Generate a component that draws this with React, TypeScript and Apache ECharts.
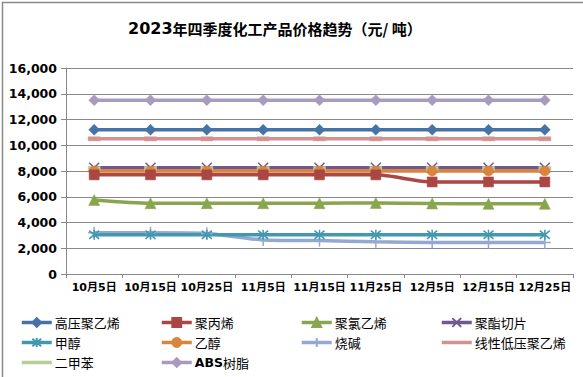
import React, { useEffect, useRef } from "react";
import * as echarts from "echarts";

const categories = ["10月5日", "10月15日", "10月25日", "11月5日", "11月15日", "11月25日", "12月5日", "12月15日", "12月25日"];
const yTicks = { min: 0, max: 16000, interval: 2000 };

const hdpe = [11200, 11200, 11200, 11200, 11200, 11200, 11200, 11200, 11200];
const pp = [7700, 7700, 7700, 7700, 7700, 7700, 7150, 7150, 7150];
const pvc = [5750, 5500, 5500, 5500, 5500, 5520, 5480, 5450, 5450];
const pet = [8250, 8250, 8250, 8250, 8250, 8250, 8250, 8250, 8250];
const methanol = [3050, 3050, 3050, 3050, 3050, 3050, 3050, 3050, 3050];
const ethanol = [8000, 8000, 8000, 8000, 8000, 8000, 8000, 8000, 8000];
const caustic = [3200, 3200, 3150, 2650, 2600, 2500, 2450, 2450, 2450];
const lldpe = [10500, 10500, 10500, 10500, 10500, 10500, 10500, 10500, 10500];
const xylene = [8200, 8200, 8200, 8200, 8200, 8200, 8200, 8200, 8200];
const abs = [13500, 13500, 13500, 13500, 13500, 13500, 13500, 13500, 13500];

const seriesNames = ["高压聚乙烯", "聚丙烯", "聚氯乙烯", "聚酯切片", "甲醇", "乙醇", "烧碱", "线性低压聚乙烯", "二甲苯", "ABS树脂"];
const seriesData = [hdpe, pp, pvc, pet, methanol, ethanol, caustic, lldpe, xylene, abs];
const colors = ["#4572A7", "#AA4643", "#89A54E", "#71588F", "#4198AF", "#DB843D", "#93A9CF", "#D19392", "#B9CD96", "#A99BBD"];

const symbols: any[] = [
  { symbol: "diamond", size: 11, stroke: false },
  { symbol: "rect", size: 10, stroke: false },
  { symbol: "triangle", size: 11, stroke: false },
  { symbol: "path://M0,0L10,10M10,0L0,10", size: 10, stroke: true },
  { symbol: "path://M0,0L10,10M10,0L0,10M5,-1L5,11", size: 10, stroke: true },
  { symbol: "circle", size: 10, stroke: false },
  { symbol: "path://M5,0L5,10M0,5L10,5", size: 12, stroke: true },
  { symbol: "rect", size: [12, 4], stroke: false },
  { symbol: "rect", size: [12, 4], stroke: false },
  { symbol: "diamond", size: 11, stroke: false },
];

// draw order: bottom series first so that top ones overlap like reference
const drawOrder = [9, 0, 7, 8, 3, 5, 1, 2, 6, 4];

const FONT = "'DejaVu Sans', 'Noto Sans CJK SC', sans-serif";
const CJK = "'Noto Sans CJK SC', 'DejaVu Sans', sans-serif";

export default function App() {
  const ref = useRef<HTMLDivElement>(null);
  useEffect(() => {
    if (!ref.current) return;
    const chart = echarts.init(ref.current, null, { renderer: "svg" });

    const series = drawOrder.map((i) => {
      const s = symbols[i];
      return {
        name: seriesNames[i],
        type: "line",
        data: seriesData[i],
        smooth: 0.25,
        symbol: s.symbol,
        symbolSize: s.size,
        z: 2,
        lineStyle: { color: colors[i], width: 3.5 },
        itemStyle: {
          color: colors[i],
          borderColor: colors[i],
          borderWidth: s.stroke ? 1.5 : 0.5,
        },
      };
    });

    const legendPos = [
      [20, 316], [160, 316], [300, 316], [440, 316],
      [20, 336], [160, 336], [300, 336], [440, 336],
      [20, 356], [160, 356],
    ];

    const legends = seriesNames.map((n, i) => ({
      show: true,
      left: legendPos[i][0],
      top: legendPos[i][1],
      padding: 0,
      itemWidth: 30,
      itemHeight: 11,
      itemGap: 0,
      lineStyle: { width: 3.5 },
      data: [
        i === 7 || i === 8
          ? { name: n, itemStyle: { opacity: 0 } }
          : { name: n },
      ],
      formatter: n === "ABS树脂" ? "{b|ABS}{a|树脂}" : "{a|" + n + "}",
      textStyle: {
        fontFamily: CJK,
        fontSize: 13,
        color: "#000",
        padding: [0, 0, 0, -2],
        rich: {
          a: { fontFamily: CJK, fontSize: 13, color: "#000" },
          b: { fontFamily: FONT, fontSize: 12.5, fontWeight: "bold", color: "#000" },
        },
      },
    }));

    chart.setOption({
      animation: false,
      backgroundColor: "#fff",
      title: {
        text: "{b|2023}{n|年四季度化工产品价格趋势（元/ 吨）}",
        left: 128,
        top: 20,
        padding: 0,
        textStyle: {
          rich: {
            b: { fontFamily: FONT, fontWeight: "bold", fontSize: 16, color: "#000" },
            n: { fontFamily: CJK, fontSize: 15, color: "#000" },
          },
        },
      },
      legend: legends,
      grid: { left: 66, right: 10, top: 68, bottom: 103 },
      xAxis: {
        type: "category",
        data: categories,
        boundaryGap: true,
        axisLine: { lineStyle: { color: "#888", width: 1 } },
        axisTick: { show: true, length: 4, lineStyle: { color: "#888" } },
        axisLabel: {
          margin: 8,
          interval: 0,
          color: "#000",
          fontFamily: FONT,
          fontWeight: "bold",
          fontSize: 11,
        },
      },
      yAxis: {
        type: "value",
        min: yTicks.min,
        max: yTicks.max,
        interval: yTicks.interval,
        axisLine: { show: true, lineStyle: { color: "#888", width: 1 } },
        axisTick: { show: true, length: 5, lineStyle: { color: "#888" } },
        splitLine: { lineStyle: { color: "#888", width: 1 } },
        axisLabel: {
          margin: 9,
          color: "#000",
          fontFamily: FONT,
          fontWeight: "bold",
          fontSize: 12.5,
          formatter: (v: number) => v.toLocaleString("en-US"),
        },
      },
      graphic: [
        {
          type: "rect",
          left: 0,
          top: 0,
          shape: { x: 0.75, y: 0.75, width: 581.5, height: 375.5 },
          style: { fill: "none", stroke: "#8a8a8a", lineWidth: 1.5 },
          silent: true,
        },
      ],
      series,
    });
    return () => chart.dispose();
  }, []);
  return (
    <div
      ref={ref}
      style={{ position: "absolute", left: 0, top: 0, width: 583, height: 377 }}
    />
  );
}
